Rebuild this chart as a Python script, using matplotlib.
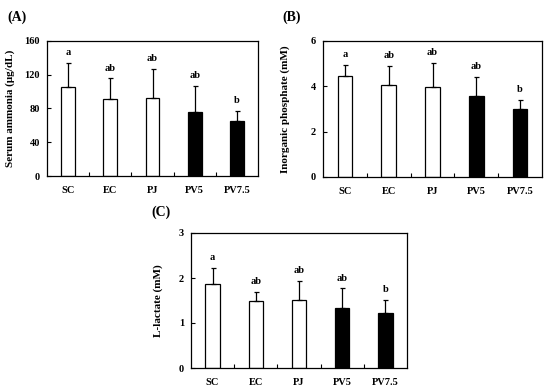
import numpy as np
import matplotlib
matplotlib.use("Agg")
import matplotlib.pyplot as plt

# === DATA ===
groups = ["SC", "EC", "PJ", "PV5", "PV7.5"]
letters = ["a", "ab", "ab", "ab", "b"]

ammonia_mean = [105, 91, 93, 76, 65]
ammonia_sd = [29, 25, 34, 31, 12]

phosphate_mean = [4.45, 4.04, 3.98, 3.56, 3.01]
phosphate_sd = [0.49, 0.86, 1.06, 0.87, 0.39]

lactate_mean = [1.86, 1.49, 1.52, 1.34, 1.23]
lactate_sd = [0.37, 0.20, 0.42, 0.43, 0.28]

bar_colors = ["white", "white", "white", "black", "black"]

plt.rcParams['font.family'] = ['Liberation Serif', 'DejaVu Serif']
plt.rcParams['font.weight'] = 'bold'

W, H = 550, 391


def panel(ax, means, sds, ymax, yticks, ylabel, tag, tag_xy, label_gap):
    x = np.arange(len(groups))
    ax.bar(x, means, width=0.33, color=bar_colors, edgecolor="black", linewidth=0.9, zorder=2)
    ax.errorbar(x, means, yerr=[np.zeros(len(sds)), sds], fmt="none", ecolor="black",
                elinewidth=0.9, capsize=1.8, capthick=0.9, zorder=3)
    for xi, m, s, lab in zip(x, means, sds, letters):
        ax.annotate(lab, (xi, m + s), xytext=(0, 4), textcoords="offset points",
                    ha="center", va="bottom", fontsize=7.5, fontweight="bold")
    ax.set_xlim(-0.5, len(groups) - 0.5)
    ax.set_ylim(0, ymax)
    ax.set_yticks(yticks)
    ax.set_xticks(x)
    ax.set_xticklabels(groups, fontsize=7.5, fontweight="bold")
    ax.set_xticks(np.arange(0.5, len(groups) - 0.5), minor=True)
    ax.tick_params(axis="x", which="major", length=0, pad=7)
    ax.tick_params(axis="x", which="minor", direction="in", length=3, width=0.8)
    ax.tick_params(axis="y", direction="in", length=3, width=0.8, labelsize=7.5, pad=5)
    for t in ax.get_yticklabels():
        t.set_fontweight("bold")
    ax.set_ylabel(ylabel, fontsize=8, fontweight="bold")
    width_px = ax.get_position().width * W
    ax.yaxis.set_label_coords(-label_gap / width_px, 0.5)
    for sp in ax.spines.values():
        sp.set_linewidth(0.9)
    ax.figure.text(tag_xy[0], tag_xy[1], tag, fontsize=10, fontweight="bold",
                   ha="left", va="center")


fig = plt.figure(figsize=(5.5, 3.91), dpi=100)


def add_axes(left, right, top, bottom):
    return fig.add_axes([left / W, 1 - bottom / H, (right - left) / W, (bottom - top) / H])


axA = add_axes(47, 258, 41, 176)
axB = add_axes(323, 542, 41, 177)
axC = add_axes(191, 407, 233, 368)

panel(axA, ammonia_mean, ammonia_sd, 160, [0, 40, 80, 120, 160],
      "Serum ammonia (\u03bcg/dL)", "(A)", (7 / W, 1 - 17 / H), 32)
panel(axB, phosphate_mean, phosphate_sd, 6, [0, 2, 4, 6],
      "Inorganic phosphate (mM)", "(B)", (282 / W, 1 - 17 / H), 33)
panel(axC, lactate_mean, lactate_sd, 3, [0, 1, 2, 3],
      "L-lactate (mM)", "(C)", (151 / W, 1 - 212 / H), 28)

fig.savefig("out.png", dpi=100)
